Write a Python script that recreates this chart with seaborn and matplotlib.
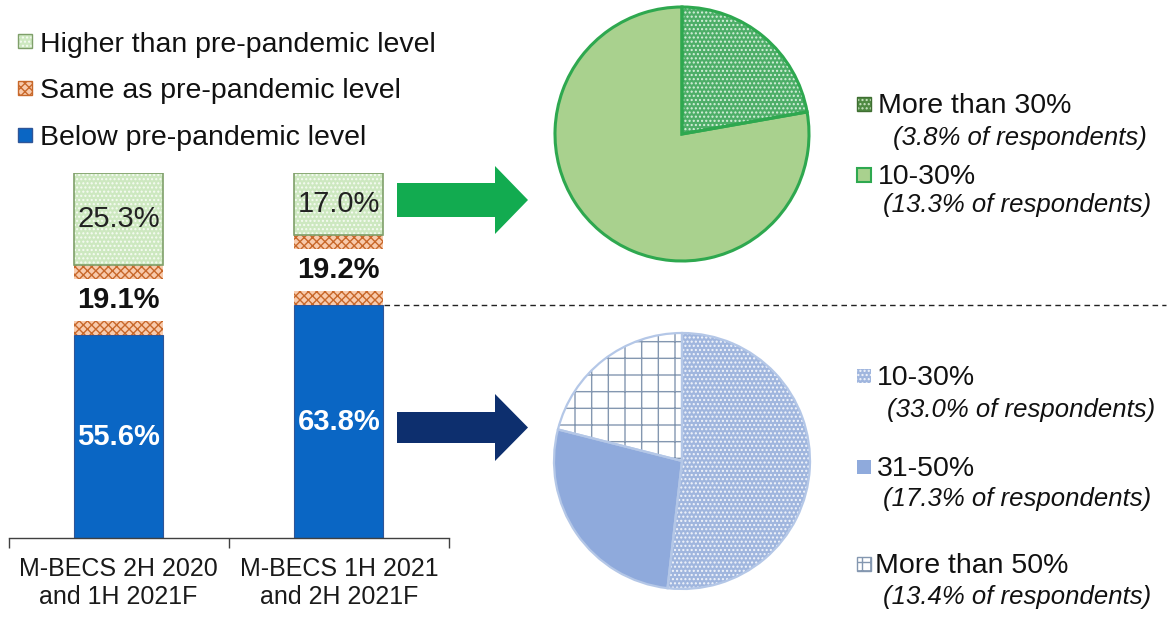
import numpy as np
import pandas as pd
import seaborn as sns
import matplotlib.pyplot as plt
from matplotlib.patches import Rectangle, Polygon
from matplotlib.transforms import blended_transform_factory

# ---------------- data ----------------
periods = ["M-BECS 2H 2020\nand 1H 2021F", "M-BECS 1H 2021\nand 2H 2021F"]
below = [55.6, 63.8]
same = [19.1, 19.2]
higher = [25.3, 17.0]
series_names = ["Higher than pre-pandemic level",
                "Same as pre-pandemic level",
                "Below pre-pandemic level"]

higher_bins = ["More than 30%", "10-30%"]
higher_shares = [3.8, 13.3]
below_bins = ["10-30%", "31-50%", "More than 50%"]
below_shares = [33.0, 17.3, 13.4]

# ---------------- style ----------------
W, H = 1171, 620
BLUE, BLUE_EDGE = "#0A66C4", "#2F5597"
SAME_FACE, SAME_HATCH = "#F8CBAD", "#C8682A"
HIGH_FACE, HIGH_HATCH, HIGH_EDGE = "#CDE8C0", "#F6FBF3", "#7F9F6A"
PIE_G_DARK, PIE_G_DOTS, PIE_G_LIGHT, PIE_G_LINE = "#4DAE68", "#D6F0DC", "#A9D18E", "#2EA84F"
PIE_B_DOT, PIE_B_SOLID, PIE_B_GRID, PIE_B_LINE = "#A0B6DE", "#8FAADC", "#8497B0", "#B4C7E7"
TEXT = "#111111"

sns.set_theme(style="white")
plt.rcParams["font.family"] = ["Liberation Sans", "DejaVu Sans"]
plt.rcParams["hatch.linewidth"] = 1.0

fig = plt.figure(figsize=(W / 100, H / 100), dpi=100)


def fbox(x0, y0, x1, y1):
    """Pixel box (origin top-left) -> figure-fraction rect."""
    return [x0 / W, 1 - y1 / H, (x1 - x0) / W, (y1 - y0) / H]


# ---------------- stacked bars ----------------
ax = fig.add_axes(fbox(8.5, 173, 449, 538))
ax.set_facecolor("none")
df = pd.DataFrame({"period": periods, "below": below, "same": same, "higher": higher})
bw = 0.405

sns.barplot(data=df, x="period", y="below", color=BLUE, saturation=1, width=bw,
            edgecolor=BLUE_EDGE, linewidth=0.8, errorbar=None, ax=ax)
sns.barplot(data=df, x="period", y="same", bottom=df["below"].to_numpy(),
            color=SAME_FACE, saturation=1, width=bw, edgecolor=SAME_HATCH,
            linewidth=0, hatch="xxxx", errorbar=None, ax=ax)
sns.barplot(data=df, x="period", y="higher",
            bottom=(df["below"] + df["same"]).to_numpy(),
            color=HIGH_FACE, saturation=1, width=bw, edgecolor=HIGH_HATCH,
            linewidth=0, hatch="....", errorbar=None, ax=ax)
for p in ax.containers[-1].patches:
    ax.add_patch(Rectangle(p.get_xy(), p.get_width(), p.get_height(), fill=False,
                           edgecolor=HIGH_EDGE, linewidth=1.2, zorder=3))

# the middle band is shown broken, with its value in the gap
STUB = 3.8
for i in range(len(periods)):
    y0 = below[i] + STUB
    y1 = below[i] + same[i] - STUB
    ax.add_patch(Rectangle((i - bw / 2 - 0.03, y0), bw + 0.06, y1 - y0,
                           facecolor="white", edgecolor="none", zorder=4))
    ax.text(i, below[i] / 2, f"{below[i]:.1f}%", ha="center", va="center",
            color="white", fontsize=21, fontweight="bold", zorder=5)
    ax.text(i, below[i] + same[i] / 2, f"{same[i]:.1f}%", ha="center", va="center",
            color=TEXT, fontsize=21, fontweight="bold", zorder=5)
    ax.text(i, below[i] + same[i] + higher[i] / 2, f"{higher[i]:.1f}%", ha="center",
            va="center", color="#222222", fontsize=21, zorder=5)

ax.set_xlim(-0.5, 1.5)
ax.set_ylim(0, 100)
ax.set_xticks([-0.5, 0.5, 1.5])
ax.set_xticklabels([])
ax.set_xticks([0, 1], minor=True)
ax.set_xticklabels(periods, minor=True, fontsize=18, color="#1A1A1A", linespacing=1.2)
ax.tick_params(axis="x", which="major", bottom=True, length=7, width=1,
               color="#404040", direction="out")
ax.tick_params(axis="x", which="minor", bottom=True, length=0, pad=14)
ax.set_yticks([])
ax.set_xlabel("")
ax.set_ylabel("")
sns.despine(ax=ax, left=True)
ax.spines["bottom"].set_color("#404040")
ax.spines["bottom"].set_linewidth(1)

# dashed guide at the top of the second "below" segment
tr = blended_transform_factory(fig.transFigure, ax.transData)
ax.plot([384 / W, 1166 / W], [below[1], below[1]], transform=tr, clip_on=False,
        color="#222222", linewidth=1, linestyle=(0, (4, 3)))


# ---------------- pies ----------------
def pie_axes(cx, cy, r):
    half = 1.1 * r
    a = fig.add_axes(fbox(cx - half, cy - half, cx + half, cy + half))
    a.set_facecolor("none")
    return a


axt = pie_axes(682, 134, 127)
wedges, _ = axt.pie(higher_shares, startangle=90, counterclock=False,
                    colors=[PIE_G_DARK, PIE_G_LIGHT], wedgeprops=dict(linewidth=0))
wedges[0].set_hatch("....")
wedges[0].set_edgecolor(PIE_G_DOTS)
axt.pie(higher_shares, startangle=90, counterclock=False, colors=["none", "none"],
        wedgeprops=dict(fill=False, edgecolor=PIE_G_LINE, linewidth=2.2))
axt.set_xlim(-1.1, 1.1)
axt.set_ylim(-1.1, 1.1)
axt.set_aspect("equal")
axt.axis("off")

axb = pie_axes(682, 461, 128)
wedges, _ = axb.pie(below_shares, startangle=90, counterclock=False,
                    colors=[PIE_B_DOT, PIE_B_SOLID, "white"], wedgeprops=dict(linewidth=0))
wedges[0].set_hatch("....")
wedges[0].set_edgecolor("#F2F5FB")
wedges[2].set_hatch("+")
wedges[2].set_edgecolor(PIE_B_GRID)
axb.pie(below_shares, startangle=90, counterclock=False, colors=["none"] * 3,
        wedgeprops=dict(fill=False, edgecolor=PIE_B_LINE, linewidth=1.6))
axb.set_xlim(-1.1, 1.1)
axb.set_ylim(-1.1, 1.1)
axb.set_aspect("equal")
axb.axis("off")

# ---------------- overlay: arrows and legends ----------------
ov = fig.add_axes([0, 0, 1, 1])
ov.set_xlim(0, W)
ov.set_ylim(H, 0)
ov.set_facecolor("none")
ov.axis("off")


def arrow(y_mid, body_half, head_half, color):
    x0, xh, xt = 397, 495, 528
    pts = [(x0, y_mid - body_half), (xh, y_mid - body_half), (xh, y_mid - head_half),
           (xt, y_mid), (xh, y_mid + head_half), (xh, y_mid + body_half),
           (x0, y_mid + body_half)]
    ov.add_patch(Polygon(pts, closed=True, facecolor=color, edgecolor="none"))


arrow(200, 17, 34, "#12AB50")
arrow(427.5, 15.5, 33.5, "#0D2F6E")


def swatch(x, y, face, hatch=None, hatch_color=None, edge=None, size=14, lw=1.0):
    ov.add_patch(Rectangle((x, y), size, size, facecolor=face, hatch=hatch,
                           edgecolor=hatch_color if hatch else "none", linewidth=0))
    if edge:
        ov.add_patch(Rectangle((x, y), size, size, fill=False, edgecolor=edge, linewidth=lw))


def label(x, y, s, size=20.5, italic=False):
    ov.text(x, y, s, fontsize=size, color=TEXT, va="baseline", ha="left",
            fontstyle="italic" if italic else "normal")


# bar legend
swatch(18, 34, HIGH_FACE, "....", HIGH_HATCH, HIGH_EDGE)
label(40, 52, series_names[0])
swatch(18, 81, SAME_FACE, "xxxx", SAME_HATCH, SAME_HATCH)
label(40, 98, series_names[1])
swatch(18, 128, BLUE, edge=BLUE_EDGE)
label(40, 145, series_names[2])

# upper pie legend
swatch(857, 97, "#4F8A42", "....", "#CDE5C5", "#3F6E32")
label(878, 113, higher_bins[0])
label(893, 145, f"({higher_shares[0]:.1f}% of respondents)", size=18.5, italic=True)
swatch(857, 168, PIE_G_LIGHT, edge=PIE_G_LINE, lw=1.5)
label(878, 184, higher_bins[1])
label(883, 212, f"({higher_shares[1]:.1f}% of respondents)", size=18.5, italic=True)

# lower pie legend
swatch(857, 369, PIE_B_DOT, "....", "#F2F5FB")
label(877, 385, below_bins[0])
label(887, 417, f"({below_shares[0]:.1f}% of respondents)", size=18.5, italic=True)
swatch(857, 460, PIE_B_SOLID)
label(877, 476, below_bins[1])
label(883, 506, f"({below_shares[1]:.1f}% of respondents)", size=18.5, italic=True)
swatch(857, 557, "white", "++", PIE_B_GRID, PIE_B_GRID)
label(875, 573, below_bins[2])
label(883, 604, f"({below_shares[2]:.1f}% of respondents)", size=18.5, italic=True)

fig.savefig("out.png", dpi=100)
